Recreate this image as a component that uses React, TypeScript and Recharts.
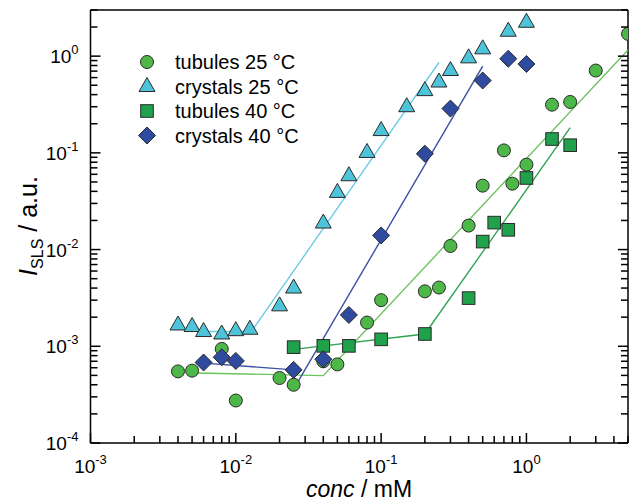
import { ScatterChart, Scatter, XAxis, YAxis, Legend } from "recharts";

const FONT = "'Liberation Sans', Arial, Helvetica, sans-serif";

// measured points (conc in mM, I_SLS in a.u.)
const tubules25X = [0.004, 0.005, 0.008, 0.01, 0.02, 0.025, 0.04, 0.05, 0.08, 0.1, 0.2, 0.25, 0.3, 0.4, 0.5, 0.7, 0.8, 1.0, 1.5, 2.0, 3.0, 5.0];
const tubules25Y = [5.5e-4, 5.6e-4, 9.4e-4, 2.75e-4, 4.7e-4, 4.0e-4, 7.0e-4, 6.5e-4, 1.76e-3, 3.0e-3, 3.7e-3, 4.05e-3, 0.0109, 0.0177, 0.0458, 0.106, 0.048, 0.0755, 0.315, 0.336, 0.71, 1.7];

const crystals25X = [0.004, 0.005, 0.006, 0.008, 0.01, 0.0125, 0.02, 0.025, 0.04, 0.05, 0.06, 0.08, 0.1, 0.15, 0.2, 0.25, 0.3, 0.4, 0.5, 0.75, 1.0];
const crystals25Y = [1.66e-3, 1.6e-3, 1.42e-3, 1.34e-3, 1.45e-3, 1.5e-3, 2.62e-3, 4.0e-3, 0.0188, 0.039, 0.058, 0.101, 0.17, 0.3, 0.44, 0.54, 0.71, 0.96, 1.19, 1.81, 2.24];

const tubules40X = [0.025, 0.04, 0.06, 0.1, 0.2, 0.4, 0.5, 0.6, 0.75, 1.0, 1.5, 2.0];
const tubules40Y = [9.8e-4, 1.01e-3, 1.01e-3, 1.18e-3, 1.34e-3, 3.15e-3, 0.0121, 0.019, 0.016, 0.055, 0.139, 0.12];

const crystals40X = [0.006, 0.008, 0.01, 0.025, 0.04, 0.06, 0.1, 0.2, 0.3, 0.5, 0.75, 1.0];
const crystals40Y = [6.8e-4, 7.7e-4, 7.06e-4, 5.7e-4, 7.35e-4, 2.11e-3, 0.014, 0.098, 0.287, 0.56, 0.94, 0.83];

// fit lines
const fitT25X = [0.0054, 0.04, 5.0];
const fitT25Y = [5.3e-4, 4.97e-4, 1.16];
const fitC25X = [0.0063, 0.0128, 0.25];
const fitC25Y = [1.42e-3, 1.42e-3, 0.86];
const fitT40X = [0.025, 0.2, 2.0];
const fitT40Y = [9.3e-4, 1.34e-3, 0.182];
const fitC40aX = [0.006, 0.025];
const fitC40aY = [6.7e-4, 5.7e-4];
const fitC40bX = [0.025, 0.5];
const fitC40bY = [3.6e-4, 0.79];

const X_DECADES = [-3, -2, -1, 0];
const Y_DECADES = [-4, -3, -2, -1, 0];
const MANTISSAS = [1, 2, 3, 4, 5, 6, 7, 8, 9];
const X_MAX = 5;
const Y_MIN = 1e-4;
const Y_MAX = 3;

const makeTicks = (decades: number[], max: number) =>
  decades
    .flatMap((d) => MANTISSAS.map((m) => Number((m * Math.pow(10, d)).toPrecision(3))))
    .filter((v) => v <= max);

const X_TICKS = makeTicks(X_DECADES, X_MAX);
const Y_TICKS = makeTicks(Y_DECADES, Y_MAX);

const zip = (xs: number[], ys: number[]) => xs.map((x, i) => ({ x, y: ys[i] }));

const C_T25 = "#4db848";
const C_C25 = "#4ec4da";
const C_T40 = "#1fa24b";
const C_C40 = "#2e4ba0";
const OUTLINE = "#2a2a2a";

const expOf = (v: number) => Math.round(Math.log10(v));
const isMajor = (v: number) => Math.abs(v / Math.pow(10, expOf(v)) - 1) < 1e-6;

const MAJOR = 10;
const MINOR = 7;
const AX = { stroke: "#000", strokeWidth: 1.5 };

const BottomTick = (p: any) => {
  const v = p.payload.value;
  const major = isMajor(v);
  return (
    <g>
      <line x1={p.x} x2={p.x} y1={p.y} y2={p.y - (major ? MAJOR : MINOR)} {...AX} />
      {major && (
        <text x={p.x} y={p.y + 30} textAnchor="middle" fontSize={19} fontFamily={FONT} fill="#000">
          10<tspan dy={-9} fontSize={13}>{expOf(v)}</tspan>
        </text>
      )}
    </g>
  );
};

const TopTick = (p: any) => {
  const major = isMajor(p.payload.value);
  return <line x1={p.x} x2={p.x} y1={p.y} y2={p.y + (major ? MAJOR : MINOR)} {...AX} />;
};

const LeftTick = (p: any) => {
  const v = p.payload.value;
  const major = isMajor(v);
  return (
    <g>
      <line x1={p.x} x2={p.x + (major ? MAJOR : MINOR)} y1={p.y} y2={p.y} {...AX} />
      {major && (
        <text x={p.x - 12} y={p.y + 7} textAnchor="end" fontSize={19} fontFamily={FONT} fill="#000">
          10<tspan dy={-9} fontSize={13}>{expOf(v)}</tspan>
        </text>
      )}
    </g>
  );
};

const RightTick = (p: any) => {
  const major = isMajor(p.payload.value);
  return <line x1={p.x} x2={p.x - (major ? MAJOR : MINOR)} y1={p.y} y2={p.y} {...AX} />;
};

// marker shapes
const circle = (cx: number, cy: number, fill: string) => (
  <circle cx={cx} cy={cy} r={6.5} fill={fill} stroke={OUTLINE} strokeWidth={1} />
);
const triangle = (cx: number, cy: number, fill: string) => (
  <polygon
    points={`${cx},${cy - 9} ${cx - 8},${cy + 5} ${cx + 8},${cy + 5}`}
    fill={fill}
    stroke={OUTLINE}
    strokeWidth={1}
    strokeLinejoin="round"
  />
);
const square = (cx: number, cy: number, fill: string) => (
  <rect x={cx - 6.3} y={cy - 6.3} width={12.6} height={12.6} fill={fill} stroke={OUTLINE} strokeWidth={1} />
);
const diamond = (cx: number, cy: number, fill: string) => (
  <polygon
    points={`${cx},${cy - 8.5} ${cx + 8.5},${cy} ${cx},${cy + 8.5} ${cx - 8.5},${cy}`}
    fill={fill}
    stroke={OUTLINE}
    strokeWidth={1}
  />
);

const SERIES = [
  { name: "tubules 25 °C", color: C_T25, mark: circle },
  { name: "crystals 25 °C", color: C_C25, mark: triangle },
  { name: "tubules 40 °C", color: C_T40, mark: square },
  { name: "crystals 40 °C", color: C_C40, mark: diamond },
];

const LegendBox = () => (
  <svg width={220} height={100}>
    {SERIES.map((s, i) => (
      <g key={s.name}>
        {s.mark(12, 14 + i * 24.5, s.color)}
        <text x={40} y={21 + i * 24.5} fontSize={20} fontFamily={FONT} fill="#000">
          {s.name}
        </text>
      </g>
    ))}
  </svg>
);

const XTitle = () => (
  <text x={359} y={497} textAnchor="middle" fontSize={23} fontFamily={FONT} fill="#000">
    <tspan fontStyle="italic">conc</tspan> / mM
  </text>
);

const YTitle = () => (
  <text transform="translate(37,226) rotate(-90)" textAnchor="middle" fontSize={25} fontFamily={FONT} fill="#000">
    <tspan fontStyle="italic">I</tspan>
    <tspan fontSize={16} dy={6}>SLS</tspan>
    <tspan dy={-6}> / a.u.</tspan>
  </text>
);

const noDot = () => <g />;

export default function App() {
  const fitLine = (xs: number[], ys: number[], color: string, key: string) => (
    <Scatter
      key={key}
      data={zip(xs, ys)}
      line={{ stroke: color, strokeWidth: 1.4 }}
      lineType="joint"
      shape={noDot}
      legendType="none"
      isAnimationActive={false}
    />
  );

  return (
    <div style={{ position: "absolute", left: 0, top: 0, width: 629, height: 504, background: "#fff" }}>
      <ScatterChart width={629} height={504} margin={{ top: 9, right: 0, bottom: 0, left: 0 }}>
        <XAxis
          dataKey="x"
          type="number"
          scale="log"
          domain={[0.001, X_MAX]}
          allowDataOverflow
          ticks={X_TICKS}
          interval={0}
          tickSize={0}
          tickMargin={0}
          tickLine={false}
          tick={BottomTick}
          axisLine={AX}
          height={61}
          label={<XTitle />}
        />
        <XAxis
          xAxisId="top"
          orientation="top"
          type="number"
          scale="log"
          domain={[0.001, X_MAX]}
          allowDataOverflow
          ticks={X_TICKS}
          interval={0}
          tickSize={0}
          tickMargin={0}
          tickLine={false}
          tick={TopTick}
          axisLine={AX}
          height={1}
        />
        <YAxis
          dataKey="y"
          type="number"
          scale="log"
          domain={[Y_MIN, Y_MAX]}
          allowDataOverflow
          ticks={Y_TICKS}
          interval={0}
          tickSize={0}
          tickMargin={0}
          tickLine={false}
          tick={LeftTick}
          axisLine={AX}
          width={90.5}
          label={<YTitle />}
        />
        <YAxis
          yAxisId="right"
          orientation="right"
          type="number"
          scale="log"
          domain={[Y_MIN, Y_MAX]}
          allowDataOverflow
          ticks={Y_TICKS}
          interval={0}
          tickSize={0}
          tickMargin={0}
          tickLine={false}
          tick={RightTick}
          axisLine={AX}
          width={1}
        />
        <Legend
          layout="vertical"
          align="center"
          verticalAlign="middle"
          content={LegendBox}
          wrapperStyle={{ left: 135, top: 48, width: 220, height: 100 }}
        />
        {fitLine(fitT25X, fitT25Y, "#6cc35e", "f1")}
        {fitLine(fitC25X, fitC25Y, "#6ccde3", "f2")}
        {fitLine(fitT40X, fitT40Y, "#2fa552", "f3")}
        {fitLine(fitC40aX, fitC40aY, "#3c50a4", "f4")}
        {fitLine(fitC40bX, fitC40bY, "#3c50a4", "f5")}
        <Scatter
          name="tubules 25 °C"
          data={zip(tubules25X, tubules25Y)}
          fill={C_T25}
          shape={(p: any) => circle(p.cx, p.cy, C_T25)}
          isAnimationActive={false}
        />
        <Scatter
          name="crystals 25 °C"
          data={zip(crystals25X, crystals25Y)}
          fill={C_C25}
          shape={(p: any) => triangle(p.cx, p.cy, C_C25)}
          isAnimationActive={false}
        />
        <Scatter
          name="tubules 40 °C"
          data={zip(tubules40X, tubules40Y)}
          fill={C_T40}
          shape={(p: any) => square(p.cx, p.cy, C_T40)}
          isAnimationActive={false}
        />
        <Scatter
          name="crystals 40 °C"
          data={zip(crystals40X, crystals40Y)}
          fill={C_C40}
          shape={(p: any) => diamond(p.cx, p.cy, C_C40)}
          isAnimationActive={false}
        />
      </ScatterChart>
    </div>
  );
}
